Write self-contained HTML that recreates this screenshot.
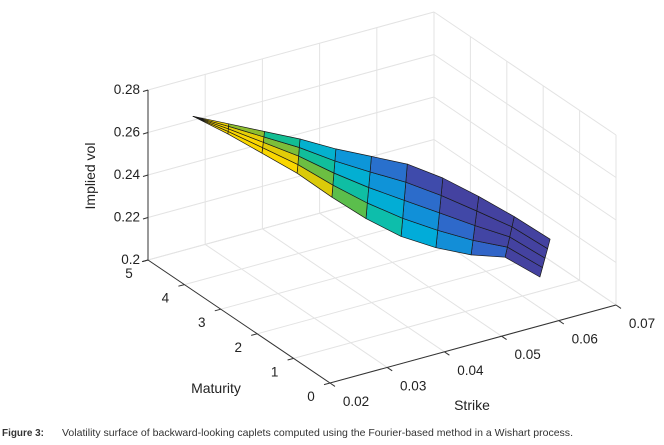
<!DOCTYPE html>
<html><head><meta charset="utf-8"><style>
html,body{margin:0;padding:0;background:#fff;}
svg{display:block;font-family:"Liberation Sans",sans-serif;}
</style></head><body>
<svg id="chart" width="664" height="445" viewBox="0 0 664 445">
<g id="grid"></g>
<g id="axes"></g>
<g id="surface"></g>
<text x="95" y="176" font-size="14" text-anchor="middle" transform="rotate(-90 95 176)" fill="#222">Implied vol</text>
<text x="216" y="393" font-size="14" text-anchor="middle" fill="#222">Maturity</text>
<text x="472" y="410" font-size="14" text-anchor="middle" fill="#222">Strike</text>
<text x="2" y="436" font-size="10.5" fill="#333" font-weight="bold" textLength="42" lengthAdjust="spacingAndGlyphs">Figure 3:</text>
<text x="62" y="436" font-size="10.5" fill="#333" textLength="511" lengthAdjust="spacingAndGlyphs">Volatility surface of backward-looking caplets computed using the Fourier-based method in a Wishart process.</text>
</svg>
<script>
// ---- data ----
const strikes = [0.020,0.025,0.030,0.035,0.040,0.045,0.050,0.055,0.060,0.065,0.070];
const matBack = [3.76,3.57,3.37,3.18,2.98,2.79,2.59,2.40,2.20,2.01,1.81];
const matFront = [3.76,3.59,3.44,3.26,3.09,2.94,2.76,2.59,2.41,2.26,2.09];
const volBack = [0.282,0.277,0.272,0.267,0.261,0.256,0.251,0.243,0.233,0.222,0.210];
const volFront = [0.282,0.272,0.261,0.250,0.237,0.225,0.215,0.208,0.203,0.200,0.189];
const strikeTicks = [0.02,0.03,0.04,0.05,0.06,0.07];
const strikeTickLabels = ["0.02","0.03","0.04","0.05","0.06","0.07"];
const matTicks = [0,1,2,3,4,5];
const matTickLabels = ["0","1","2","3","4","5"];
const volTicks = [0.20,0.22,0.24,0.26,0.28];
const volTickLabels = ["0.2","0.22","0.24","0.26","0.28"];
const nAcross = 5;

// ---- axis functions (projection) ----
const K0=0.02,K1=0.07,T0=0,T1=5,Z0=0.2,Z1=0.28;
function px(K,T,z){return 330 - 36.4*T + 5720*(K-K0);}
function py(K,T,z){return 383 - 24.6*T - 1560*(K-K0) - 2125*(z-Z0);}
const NS="http://www.w3.org/2000/svg";
function mk(tag,attrs,parent){const e=document.createElementNS(NS,tag);for(const k in attrs)e.setAttribute(k,attrs[k]);parent.appendChild(e);return e;}
function line(a,b,parent,col,w){return mk('line',{x1:px(...a).toFixed(1),y1:py(...a).toFixed(1),x2:px(...b).toFixed(1),y2:py(...b).toFixed(1),stroke:col,'stroke-width':w},parent);}

const grid=document.getElementById('grid');
const GC='#e3e3e3';
strikeTicks.forEach(K=>{
  let l=line([K,T0,Z0],[K,T1,Z0],grid,GC,1);
  
  
  l=line([K,T1,Z0],[K,T1,Z1],grid,GC,1);
  
  
});
matTicks.forEach(T=>{
  let l=line([K0,T,Z0],[K1,T,Z0],grid,GC,1);
  
  
  l=line([K1,T,Z0],[K1,T,Z1],grid,GC,1);
  
  
});
volTicks.forEach(z=>{
  let l=line([K0,T1,z],[K1,T1,z],grid,GC,1);
  
  
  l=line([K1,T0,z],[K1,T1,z],grid,GC,1);
  
  
});

// axes
const axes=document.getElementById('axes');
const AC='#333';
let a=line([K0,T1,Z0],[K0,T1,Z1],axes,AC,1);


a=line([K0,T0,Z0],[K0,T1,Z0],axes,AC,1);


a=line([K0,T0,Z0],[K1,T0,Z0],axes,AC,1);


volTicks.forEach((z,i)=>{
  const x=px(K0,T1,z),y=py(K0,T1,z);
  const t=mk('line',{x1:x,y1:y,x2:x-5,y2:y+1.5,stroke:AC,'stroke-width':1},axes);
  
  
  const tx=mk('text',{x:x-8,y:y+4,'font-size':13.5,'text-anchor':'end',fill:'#222'},axes);
  tx.textContent=volTickLabels[i];
  
  
});
matTicks.forEach((T,i)=>{
  const x=px(K0,T,Z0),y=py(K0,T,Z0);
  const t=mk('line',{x1:x,y1:y,x2:x-6,y2:y+1.6,stroke:AC,'stroke-width':1},axes);
  
  
  const tx=mk('text',{x:x-19,y:y+18,'font-size':13.5,'text-anchor':'middle',fill:'#222'},axes);
  tx.textContent=matTickLabels[i];
  
  
});
strikeTicks.forEach((K,i)=>{
  const x=px(K,T0,Z0),y=py(K,T0,Z0);
  const t=mk('line',{x1:x,y1:y,x2:x+5,y2:y+3.4,stroke:AC,'stroke-width':1},axes);
  
  
  const tx=mk('text',{x:x+26,y:y+23,'font-size':13.5,'text-anchor':'middle',fill:'#222'},axes);
  tx.textContent=strikeTickLabels[i];
  
  
});

// colormap (parula-like, 0=low purple,1=yellow)
const cmap=[[0,[68,66,160]],[0.15,[50,100,200]],[0.3,[20,140,215]],[0.45,[0,170,220]],[0.6,[10,190,180]],[0.72,[30,190,110]],[0.85,[190,190,20]],[1,[250,215,0]]];
function col(t){t=Math.max(0,Math.min(1,t));for(let k=1;k<cmap.length;k++){if(t<=cmap[k][0]){const [t0,c0]=cmap[k-1],[t1,c1]=cmap[k];const f=(t-t0)/(t1-t0);return 'rgb('+c0.map((v,m)=>Math.round(v+(c1[m]-v)*f)).join(',')+')';}}return 'rgb(250,215,0)';}

// surface nodes
function node(j,i){const f=i/(nAcross-1);return [strikes[j], matBack[j]+(matFront[j]-matBack[j])*f, volBack[j]+(volFront[j]-volBack[j])*f];}
const surf=document.getElementById('surface');
const cells=[];
for(let j=0;j<strikes.length-1;j++)for(let i=0;i<nAcross-1;i++){
  const p=[node(j,i),node(j+1,i),node(j+1,i+1),node(j,i+1)];
  const depth=p.reduce((s,q)=>s+(383-24.6*q[1]-1560*(q[0]-K0)),0)/4;
  const t=1-(j-2.5)/6.5-(nAcross-2-i)*0.14;
  cells.push({p,depth,t});
}
cells.sort((a,b)=>a.depth-b.depth);
cells.forEach(c=>{
  const pts=c.p.map(q=>px(...q).toFixed(1)+','+py(...q).toFixed(1)).join(' ');
  const e=mk('polygon',{points:pts,fill:col(c.t),stroke:'#1a1a1a','stroke-width':0.7,'stroke-linejoin':'round'},surf);
  
  
});
</script>
</body></html>
